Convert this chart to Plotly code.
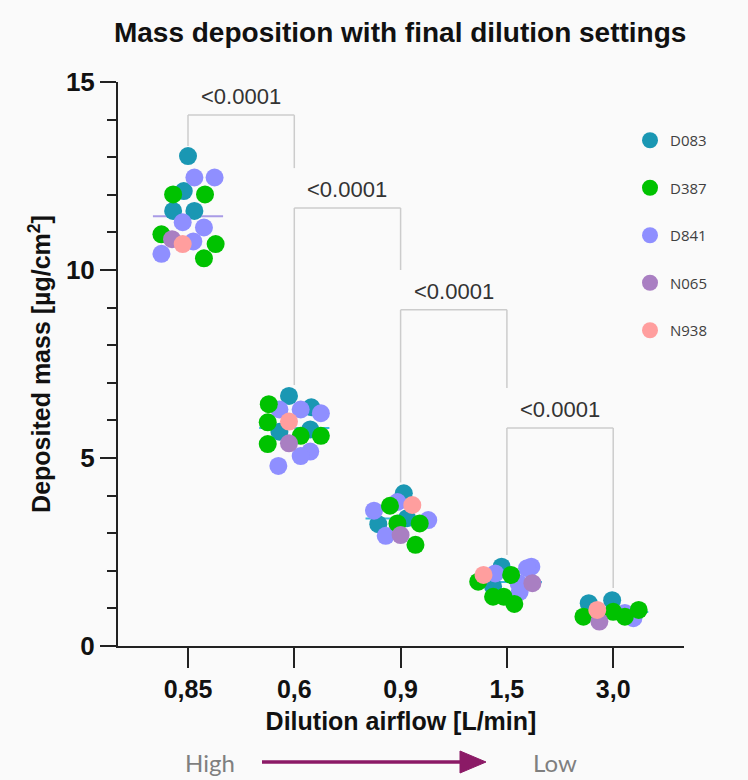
import plotly.graph_objects as go

# ---------------- data ----------------
categories = ["0,85", "0,6", "0,9", "1,5", "3,0"]
donors = ["D083", "D387", "D841", "N065", "N938"]
colors = {"D083": "#1a97b3", "D387": "#00c200", "D841": "#8f8fff",
          "N065": "#a97fc2", "N938": "#ff9e9e"}

# per donor: category index, deposited mass, horizontal jitter (category units)
D083_cat = [0, 0, 0, 0, 1, 1, 1, 1, 2, 2, 2, 3, 3, 4, 4]
D083_val = [13.03, 12.10, 11.57, 11.57, 6.65, 6.35, 5.70, 5.76, 4.06, 3.40, 3.24, 2.11, 1.58, 1.14, 1.22]
D083_jit = [0.00, -0.04, -0.14, 0.06, -0.05, 0.16, -0.14, 0.15, 0.03, 0.06, -0.21, -0.05, -0.13, -0.23, -0.01]

D387_cat = [0, 0, 0, 0, 0, 1, 1, 1, 1, 1, 2, 2, 2, 2, 3, 3, 3, 3, 3, 4, 4, 4, 4]
D387_val = [12.01, 12.01, 10.95, 10.69, 10.31, 6.43, 5.95, 5.59, 5.59, 5.37, 3.73, 3.26, 3.26, 2.69,
            1.89, 1.71, 1.31, 1.31, 1.12, 0.78, 0.91, 0.78, 0.96]
D387_jit = [-0.14, 0.16, -0.25, 0.26, 0.15, -0.24, -0.25, 0.06, 0.25, -0.25, -0.10, -0.03, 0.18, 0.14,
            0.04, -0.27, -0.13, -0.03, 0.07, -0.28, 0.00, 0.11, 0.24]

D841_cat = [0, 0, 0, 0, 0, 0, 1, 1, 1, 1, 1, 1, 2, 2, 2, 2, 3, 3, 3, 3, 3, 4, 4]
D841_val = [12.46, 12.46, 11.27, 11.13, 10.76, 10.43, 6.29, 6.29, 6.19, 5.17, 5.05, 4.79,
            3.83, 3.60, 3.35, 2.93, 2.11, 2.07, 1.93, 1.67, 1.44, 0.88, 0.74]
D841_jit = [0.06, 0.25, -0.05, 0.15, 0.05, -0.25, -0.14, 0.06, 0.25, 0.15, 0.06, -0.15,
            -0.03, -0.25, 0.26, -0.14, 0.23, 0.19, -0.11, 0.11, 0.12, 0.11, 0.19]

N065_cat = [0, 1, 2, 3, 4]
N065_val = [10.82, 5.39, 2.95, 1.67, 0.65]
N065_jit = [-0.15, -0.05, 0.00, 0.24, -0.13]

N938_cat = [0, 1, 2, 3, 4]
N938_val = [10.69, 5.97, 3.75, 1.89, 0.96]
N938_jit = [-0.05, -0.05, 0.11, -0.22, -0.15]

series = {
    "D083": (D083_cat, D083_val, D083_jit),
    "D387": (D387_cat, D387_val, D387_jit),
    "D841": (D841_cat, D841_val, D841_jit),
    "N065": (N065_cat, N065_val, N065_jit),
    "N938": (N938_cat, N938_val, N938_jit),
}

# significance brackets: (left cat, right cat, top, left leg end, right leg end, label)
brackets = [
    (0, 1, 14.12, 13.30, 12.71, "<0.0001"),
    (1, 2, 11.65, 6.94, 10.00, "<0.0001"),
    (2, 3, 8.94, 4.35, 6.86, "<0.0001"),
    (3, 4, 5.80, 2.42, 1.54, "<0.0001"),
]
mean_colors = ["#a99be6", "#3fb4dc", "#3fb4dc", "#3fb4dc", "#3fb4dc"]

# ---------------- figure ----------------
FONT = "Liberation Sans, Arial, sans-serif"
L, R, T, B = 118, 64, 82, 134
W, H = 748, 780
PW, PH = W - L - R, H - T - B


def px(xp):
    return (xp - L) / PW


def py(yp):
    return (H - B - yp) / PH


fig = go.Figure()

# group means
for ci, cat in enumerate(categories):
    vals = []
    for d in donors:
        c, v, _ = series[d]
        vals += [vv for cc, vv in zip(c, v) if cc == ci]
    m = sum(vals) / len(vals)
    fig.add_trace(go.Scatter(x=[ci - 0.33, ci + 0.33], y=[m, m], mode="lines",
                             line=dict(color=mean_colors[ci], width=2),
                             showlegend=False, hoverinfo="skip"))

draw_order = ["D083", "D841", "D387", "N065", "N938"]
for d in draw_order:
    c, v, j = series[d]
    fig.add_trace(go.Scatter(
        x=[cc + jj for cc, jj in zip(c, j)], y=v, mode="markers", name=d,
        legendgroup=d, legendrank=donors.index(d) + 1,
        marker=dict(size=18, color=colors[d], line=dict(width=0)),
    ))

for (a, b, top, l_end, r_end, lab) in brackets:
    fig.add_shape(type="line", x0=a, x1=a, y0=l_end, y1=top, xref="x", yref="y",
                  line=dict(color="#cccccc", width=1.5))
    fig.add_shape(type="line", x0=a, x1=b, y0=top, y1=top, xref="x", yref="y",
                  line=dict(color="#cccccc", width=1.5))
    fig.add_shape(type="line", x0=b, x1=b, y0=r_end, y1=top, xref="x", yref="y",
                  line=dict(color="#cccccc", width=1.5))
    fig.add_annotation(x=(a + b) / 2, y=top, text=lab, showarrow=False, yanchor="bottom",
                       yshift=4, font=dict(family=FONT, size=22, color="#333333"))

# High -> Low arrow below the axis (line + head as shapes)
AC = "#8b1a66"
ay = py(762)
fig.add_shape(type="line", xref="paper", yref="paper", x0=px(262), x1=px(464), y0=ay, y1=ay,
              line=dict(color=AC, width=3.5))
fig.add_shape(type="path", xref="paper", yref="paper",
              path=f"M {px(460)} {py(751)} L {px(486)} {ay} L {px(460)} {py(773)} Z",
              fillcolor=AC, line=dict(color=AC, width=1))
fig.add_annotation(x=px(210), y=ay, xref="paper", yref="paper", text="High",
                   xanchor="center", yanchor="middle", showarrow=False,
                   font=dict(family="Lato, Open Sans, sans-serif", size=24, color="#7f7f7f"))
fig.add_annotation(x=px(555), y=ay, xref="paper", yref="paper", text="Low",
                   xanchor="center", yanchor="middle", showarrow=False,
                   font=dict(family="Lato, Open Sans, sans-serif", size=24, color="#7f7f7f"))

fig.update_layout(
    width=W, height=H,
    margin=dict(l=L, r=R, t=T, b=B),
    paper_bgcolor="#fafafa", plot_bgcolor="#fafafa",
    title=dict(text="Mass deposition with final dilution settings", x=0.535, xanchor="center",
               y=0.959, yanchor="middle",
               font=dict(family=FONT, size=28, color="#111111", weight="bold")),
    showlegend=True,
    legend=dict(x=px(630), y=py(124), xanchor="left", yanchor="top", bgcolor="rgba(0,0,0,0)",
                tracegroupgap=25, itemsizing="trace",
                font=dict(family="Open Sans, sans-serif", size=15, color="#404040")),
    xaxis=dict(range=[(L - 188) / 106.3, (W - R - 188) / 106.3], tickmode="array",
               tickvals=list(range(len(categories))),
               ticktext=categories, showgrid=False, zeroline=False,
               showline=True, linecolor="#222222", linewidth=2,
               ticks="outside", ticklen=20, tickwidth=2, tickcolor="#222222",
               ticklabelstandoff=0,
               tickfont=dict(family=FONT, size=25, color="#111111", weight="bold"),
               title=dict(text="Dilution airflow [L/min]", standoff=10,
                          font=dict(family=FONT, size=25, color="#111111", weight="bold"))),
    yaxis=dict(range=[0, 15], tickvals=[0, 5, 10, 15], showgrid=False, zeroline=False,
               showline=True, linecolor="#222222", linewidth=2,
               ticks="outside", ticklen=16, tickwidth=2, tickcolor="#222222",
               minor=dict(dtick=1, ticks="outside", ticklen=9, tickwidth=2, tickcolor="#222222",
                          showgrid=False),
               tickfont=dict(family=FONT, size=26, color="#111111", weight="bold"),
               title=dict(text="Deposited mass [µg/cm<sup>2</sup>]", standoff=8,
                          font=dict(family=FONT, size=25, color="#111111", weight="bold"))),
)

fig.write_html("out.html")
